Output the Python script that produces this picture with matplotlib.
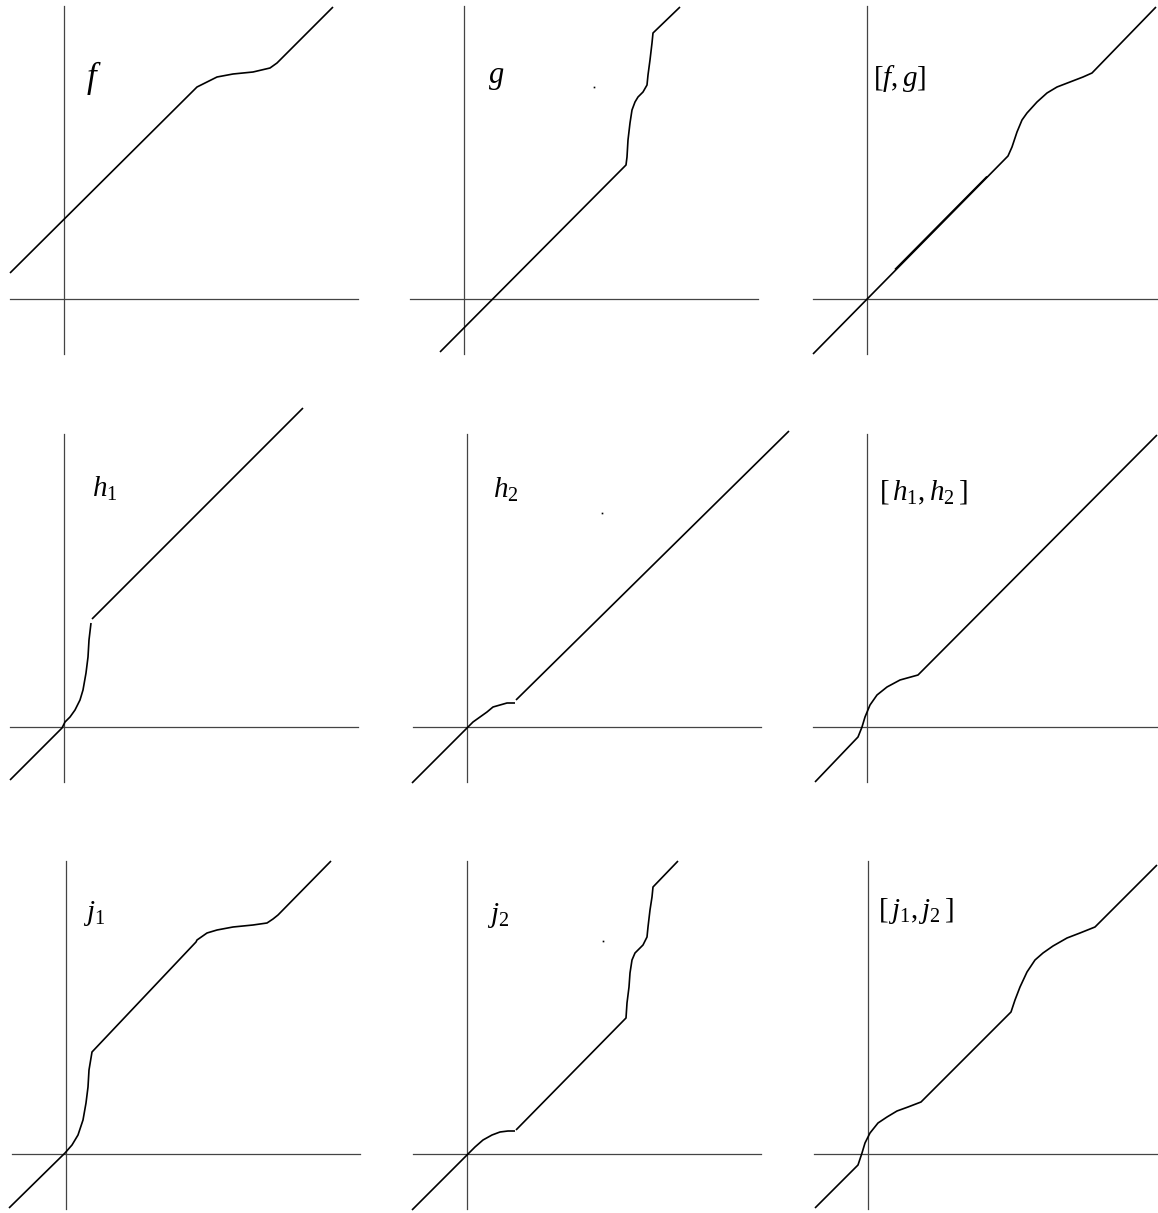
import matplotlib
matplotlib.use("Agg")
import matplotlib.pyplot as plt

# 字体设置: 数学斜体用 Times 风格
plt.rcParams['mathtext.fontset'] = 'custom'
plt.rcParams['mathtext.rm'] = 'Liberation Serif'
plt.rcParams['mathtext.it'] = 'Liberation Serif:italic'
plt.rcParams['font.family'] = ['Liberation Serif', 'DejaVu Serif']

W, H = 1158, 1213

# 坐标轴线的范围 (原点为交点)
axis_x = [-54, 294]
axis_y = [-55, 293]

# 各图的标签
labels = [r'$f$', r'$g$', r'$[f,g]$',
          r'$h_1$', r'$h_2$', r'$[\,h_1,h_2\,]$',
          r'$j_1$', r'$j_2$', r'$[\,j_1,j_2\,]$']
label_x = [22, 24, 6, 28, 26, 12, 17, 20, 10]
label_y = [212, 216, 213, 230, 229, 227, 234, 232, 236]
label_size = [25, 22, 21, 21, 21, 21, 21, 21, 21]

# 曲线数据
f_x = [-54, 133, 143, 153, 169, 189, 206, 213, 269]
f_y = [26, 212, 217, 222, 225, 227, 231, 236, 292]

g_x = [-24, 162, 163, 164, 166, 168, 171, 174, 179, 183, 184, 186, 188, 189, 216]
g_y = [-53, 134, 142, 159, 176, 189, 197, 202, 207, 214, 224, 239, 256, 266, 292]

fg_x = [-54, 141, 145, 150, 155, 160, 170, 180, 190, 203, 216, 225, 289]
fg_y = [-55, 143, 152, 167, 179, 186, 197, 206, 212, 217, 222, 226, 292]
# 重叠的那一小段 (图上看起来更粗)
fg_extra_x = [28, 120]
fg_extra_y = [29.5, 122.5]

h1_x = [-54, -2, 1, 6, 11, 16, 19, 22, 24, 25, 27]
h1_y = [-53, -1, 5, 10, 17, 27, 37, 54, 70, 87, 104]
h1_top_x = [28, 239]
h1_top_y = [108, 319]

h2_x = [-55, 0, 6, 13, 20, 26, 33, 40, 48]
h2_y = [-56, -1, 5, 10, 15, 20, 22, 24, 24]
h2_top_x = [49, 322]
h2_top_y = [27, 296]

h12_x = [-52, -9, -5, -2, 3, 10, 20, 33, 51, 290]
h12_y = [-55, -10, 0, 10, 22, 32, 40, 47, 52, 292]

j1_x = [-57, -1, 6, 12, 17, 20, 22, 23, 26, 130, 131, 141, 151, 167, 187, 201, 207, 212, 265]
j1_y = [-54, 1, 9, 19, 34, 51, 67, 84, 102, 212, 214, 221, 224, 227, 229, 231, 235, 239, 293]

j2_x = [-55, 0, 8, 16, 25, 33, 41, 48]
j2_y = [-56, -1, 7, 14, 19, 22, 23, 23]
j2_top_x = [49, 159, 160, 162, 163, 165, 168, 171, 176, 180, 181, 183, 185, 186, 211]
j2_top_y = [24, 136, 151, 167, 181, 194, 201, 204, 209, 217, 227, 244, 257, 267, 293]

j12_x = [-53, -10, -6, -3, 2, 10, 19, 29, 40, 53, 143, 147, 152, 159, 167, 175, 185, 199, 212, 227, 289]
j12_y = [-54, -11, 1, 11, 21, 31, 37, 43, 47, 52, 142, 154, 167, 182, 194, 201, 208, 216, 221, 227, 289]

# 图中的小点
dot_x = [130, 135, 136]
dot_y = [212, 214, 213]

curves = [
    [(f_x, f_y)],
    [(g_x, g_y)],
    [(fg_x, fg_y), (fg_extra_x, fg_extra_y)],
    [(h1_x, h1_y), (h1_top_x, h1_top_y)],
    [(h2_x, h2_y), (h2_top_x, h2_top_y)],
    [(h12_x, h12_y)],
    [(j1_x, j1_y)],
    [(j2_x, j2_y), (j2_top_x, j2_top_y)],
    [(j12_x, j12_y)],
]
# 哪些图有小点 (g, h2, j2)
dot_panels = {1: 0, 4: 1, 7: 2}

# 每个图的原点位置 (像素)
origin_px = [(64, 299), (464, 299), (867, 299),
             (64, 727), (467, 727), (867, 727),
             (66, 1154), (467, 1154), (868, 1154)]

fig = plt.figure(figsize=(W / 100, H / 100), dpi=100)

span = 400
for i, (x0, y0) in enumerate(origin_px):
    ax = fig.add_axes([(x0 - 70) / W, (H - (y0 + 70)) / H, span / W, span / H])
    ax.set_xlim(-70, span - 70)
    ax.set_ylim(-70, span - 70)
    ax.axis('off')

    # 坐标轴
    ax.plot(axis_x, [0, 0], color='#444444', lw=0.9, clip_on=False)
    ax.plot([0, 0], axis_y, color='#444444', lw=0.9, clip_on=False)

    # 曲线
    for xs, ys in curves[i]:
        ax.plot(xs, ys, color='black', lw=1.2, clip_on=False,
                solid_joinstyle='round', solid_capstyle='butt')

    if i in dot_panels:
        k = dot_panels[i]
        ax.plot([dot_x[k]], [dot_y[k]], 's', color='black', ms=1.2, mew=0)

    ax.text(label_x[i], label_y[i], labels[i], fontsize=label_size[i],
            ha='left', va='baseline')

fig.savefig('out.png', dpi=100)
plt.close(fig)
